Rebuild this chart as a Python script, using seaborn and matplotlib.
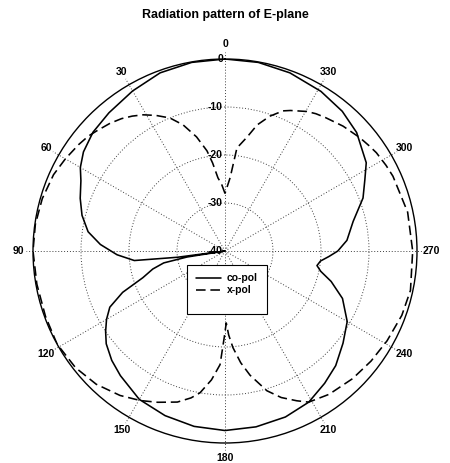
import numpy as np
import pandas as pd
import matplotlib
matplotlib.use("Agg")
import matplotlib.pyplot as plt
from matplotlib.patches import Rectangle
import seaborn as sns

# ---------------- data ----------------
co_angle = [0, 10, 20, 30, 40, 48, 55, 60, 64, 70, 76, 82, 87, 92, 96, 97.5, 98,
            99, 101, 104, 108, 112, 116, 120, 124, 128, 134, 140, 150, 160, 170,
            180, 190, 200, 209, 217, 224, 232, 240, 248, 254, 258, 261, 264, 267,
            270, 275, 283, 291, 297, 302, 312, 320, 329, 340, 350, 360]
co_db = [0, -0.1, -0.5, -1.5, -2.4, -3.0, -4.0, -5.2, -6.6, -7.9, -9.3, -11.2,
         -14, -17.5, -21, -30, -40, -32, -27, -24.5, -22, -17, -13.3, -11.5, -10,
         -8.6, -7.2, -6.1, -4.3, -3.5, -2.9, -2.6, -2.8, -3.2, -4.0, -5.5, -6.8,
         -8.8, -10.6, -13.6, -17, -19.6, -20.6, -20, -18.3, -16.5, -14.5, -12.6,
         -9.2, -7.3, -5.3, -3.1, -2.0, -1.2, -0.5, -0.1, 0]

x_angle = [0, 3, 5.5, 8, 10.2, 14, 18.4, 22.5, 27, 31, 34.5, 38, 42, 46.8, 50, 54,
           60, 66, 74, 82, 90, 100, 110, 119, 128, 136, 144, 150.5, 156, 162.5,
           167, 170, 174, 177.5, 179.5, 181, 182.5, 184.7, 188, 191.4, 196.7, 201,
           205.6, 209, 216, 225, 233, 241, 250, 258, 270, 282, 294, 298, 303, 306,
           310, 316.6, 323, 326.5, 329.6, 335, 337.5, 341.6, 345.7, 349, 353.4,
           356, 360]
x_db = [-28, -26, -24.7, -21.5, -18.8, -15.5, -12.3, -10, -8.3, -6.9, -5.9, -5.0,
        -4.2, -3.4, -2.8, -2.3, -1.6, -0.9, -0.4, -0.1, 0, -0.2, -0.2, 0, -0.5,
        -1.4, -2.8, -4.2, -5.5, -7, -8.6, -10, -13, -16.3, -22, -25, -22.5, -19.8,
        -16.5, -13.6, -9.6, -7.3, -5.4, -4.0, -3.1, -2.4, -1.9, -1.4, -0.8, -0.5,
        -0.9, -1.1, -1.7, -2.0, -2.4, -2.8, -3.3, -4.2, -5.2, -5.7, -6.3, -7.7,
        -8.4, -10.4, -12.9, -15.8, -18.4, -24.7, -28]

series_names = ["co-pol", "x-pol"]
angle_ticks = list(range(0, 360, 30))
ring_values = [0, -10, -20, -30, -40]
title = "Radiation pattern of E-plane"

# ---------------- build table ----------------
floor = -40
df = pd.concat([
    pd.DataFrame({"theta": np.deg2rad(co_angle), "r": np.array(co_db) - floor,
                  "series": series_names[0]}),
    pd.DataFrame({"theta": np.deg2rad(x_angle), "r": np.array(x_db) - floor,
                  "series": series_names[1]}),
], ignore_index=True)

sns.set_style("white")
plt.rcParams["font.family"] = ["Liberation Sans", "DejaVu Sans"]
plt.rcParams["text.color"] = "black"
plt.rcParams["xtick.color"] = "black"
plt.rcParams["ytick.color"] = "black"

W, H = 450, 463
fig = plt.figure(figsize=(W / 100, H / 100), dpi=100)
R = 192
cx, cy = 225, 251
ax = fig.add_axes([(cx - R) / W, (H - cy - R) / H, 2 * R / W, 2 * R / H],
                  projection="polar")
ax.set_theta_zero_location("N")
ax.set_theta_direction(1)

sns.lineplot(data=df, x="theta", y="r", hue="series", style="series",
             palette={"co-pol": "black", "x-pol": "black"},
             dashes={"co-pol": "", "x-pol": (6, 3)},
             sort=False, estimator=None, linewidth=1.15, ax=ax, legend=True)

ax.set_ylim(0, -floor)
ax.set_xlabel("")
ax.set_ylabel("")

# rings
ax.set_yticks([10, 20, 30])
ax.set_yticklabels([])
ax.yaxis.grid(True, linestyle=(0, (1, 2)), color="0.25", linewidth=0.7)
ax.xaxis.grid(False)

# spokes
for a in angle_ticks:
    t = np.deg2rad(a)
    ax.plot([t, t], [0, -floor * 1.035], linestyle=(0, (1, 2)), color="0.25",
            linewidth=0.7, clip_on=False, zorder=1)

ax.set_xticks(np.deg2rad(angle_ticks))
ax.set_xticklabels([str(a) for a in angle_ticks], fontsize=7.5,
                   fontweight="bold", color="black")
ax.tick_params(axis="x", length=0, pad=3.5)
ax.spines["polar"].set_linewidth(1.0)
ax.spines["polar"].set_color("black")

for v in ring_values:
    ax.annotate(str(v), xy=(0, v - floor), xytext=(-1.5, 0),
                textcoords="offset points", ha="right", va="center",
                fontsize=7.5, fontweight="bold", color="black",
                annotation_clip=False)

fig.text(0.5, 1 - 15 / H, title, ha="center", va="center", fontsize=9,
         fontweight="bold", color="black")

# legend
handles, labels = ax.get_legend_handles_labels()
ax.get_legend().remove()
box = Rectangle((187 / W, 1 - 314 / H), 80 / W, 49 / H, transform=fig.transFigure,
                facecolor="white", edgecolor="black", linewidth=0.8, zorder=4)
fig.add_artist(box)
leg = fig.legend(handles, labels, loc="upper left",
                 bbox_to_anchor=(189 / W, 1 - 266 / H), frameon=False,
                 fontsize=7.5, handlelength=2.4, handletextpad=0.5,
                 labelspacing=0.2, borderpad=0.2)
leg.set_zorder(5)
for txt in leg.get_texts():
    txt.set_fontweight("bold")
    txt.set_color("black")

fig.savefig("out.png", dpi=100)
